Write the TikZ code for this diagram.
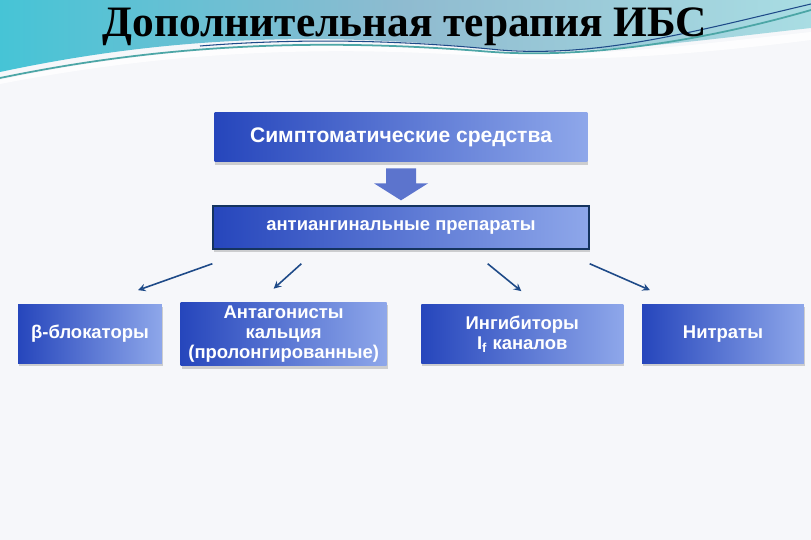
\documentclass[tikz,border=0pt]{standalone}
\usepackage{fontspec}
\setmainfont{Liberation Serif}
\setsansfont{Liberation Sans}
\usepackage{tikz}
\usetikzlibrary{positioning,shadows,calc}

\definecolor{bgpaper}{HTML}{F6F7FA}
\definecolor{boxdark}{HTML}{2646BC}
\definecolor{boxlight}{HTML}{8EA7EA}
\definecolor{wavecyan}{HTML}{46C4D6}
\definecolor{wavegray}{HTML}{8FBBD0}
\definecolor{wavelight}{HTML}{A9DDE3}
\definecolor{arrowblue}{HTML}{1E4A88}

\begin{document}
\begin{tikzpicture}[
        x = 0.02cm, y = -0.02cm,
        blockbox/.style = {rectangle, left color=boxdark, right color=boxlight,
            text=white, font=\sffamily\bfseries, align=center, inner sep=2pt,
            drop shadow={opacity=0.35, shadow xshift=0.5pt, shadow yshift=-1.5pt}},
        lowbox/.style = {blockbox, minimum height=1.18cm,
            font=\sffamily\bfseries\fontsize{10.5}{11.5}\selectfont},
        thinarrow/.style = {->, >=stealth, draw=arrowblue, line width=0.9pt},
    ]
    % slide background
    \fill [bgpaper] (0,0) rectangle (811,540);
    \useasboundingbox (0,0) rectangle (811,540);
    \shade [left color=wavecyan, right color=wavelight, middle color=wavegray]
        (0,0) -- (0,72) .. controls (150,40) and (300,30) .. (480,48)
        .. controls (580,58) and (700,40) .. (811,28) -- (811,0) -- cycle;
    \fill [white, opacity=0.8]
        (0,80) .. controls (150,48) and (300,38) .. (480,52)
        .. controls (580,60) and (700,44) .. (811,32) -- (811,40)
        .. controls (700,54) and (580,64) .. (480,56)
        .. controls (300,44) and (150,55) .. (0,84) -- cycle;
    \draw [teal!70, line width=1pt]
        (0,78) .. controls (150,47) and (300,37) .. (480,51)
        .. controls (580,60) and (700,42) .. (811,10);
    \draw [arrowblue, line width=0.6pt]
        (200,46) .. controls (300,38) and (400,40) .. (500,50)
        .. controls (600,58) and (700,30) .. (811,4);
    \node [anchor=base] (title) at (405,37) {\bfseries\fontsize{24.7}{28}\selectfont Дополнительная терапия ИБС};

    % scheme
    \node [blockbox, minimum width=7.46cm, minimum height=1.0cm,
        font=\sffamily\bfseries\fontsize{12}{14}\selectfont] (symp) at (401,137) {Симптоматические средства};
    \node [blockbox, draw=arrowblue!70!black, line width=0.8pt, minimum width=7.52cm, minimum height=0.86cm,
        font=\sffamily\bfseries\fontsize{10.5}{12}\selectfont, below = 0.86cm of symp] (anti) {антиангинальные препараты};
    % wide arrow between the two
    \fill [boxdark!75!white] ($(symp.south)+(-15,6)$) -- ++(30,0) -- ++(0,15) -- ++(12,0)
        -- ++(-27,17) -- ++(-27,-17) -- ++(12,0) -- cycle;

    \node [lowbox, minimum width=2.88cm] (beta) at (90,334) {β-блокаторы};
    \node [lowbox, minimum width=4.12cm, right = 0.36cm of beta] (calc) {Антагонисты\\кальция\\(пролонгированные)};
    \node [lowbox, minimum width=4.04cm, right = 0.68cm of calc] (inhib) {Ингибиторы\\I\textsubscript{f} каналов};
    \node [lowbox, minimum width=3.24cm, right = 0.36cm of inhib] (nitr) {Нитраты};

    \coordinate (s1) at ($(anti.south west)+(0,14)$);
    \coordinate (s2) at ($(anti.south west)+(89,14)$);
    \coordinate (s3) at ($(anti.south east)+(-102,14)$);
    \coordinate (s4) at ($(anti.south east)+(0,14)$);
    \coordinate (e1) at ($(beta.north)+(48,-14)$);
    \coordinate (e2) at ($(calc.north)+(-10,-13)$);
    \coordinate (e3) at ($(inhib.north)+(-1,-13)$);
    \coordinate (e4) at ($(nitr.north)+(-73,-14)$);
    \draw [thinarrow] (s1) -- (e1);
    \draw [thinarrow] (s2) -- (e2);
    \draw [thinarrow] (s3) -- (e3);
    \draw [thinarrow] (s4) -- (e4);
\end{tikzpicture}
\end{document}
